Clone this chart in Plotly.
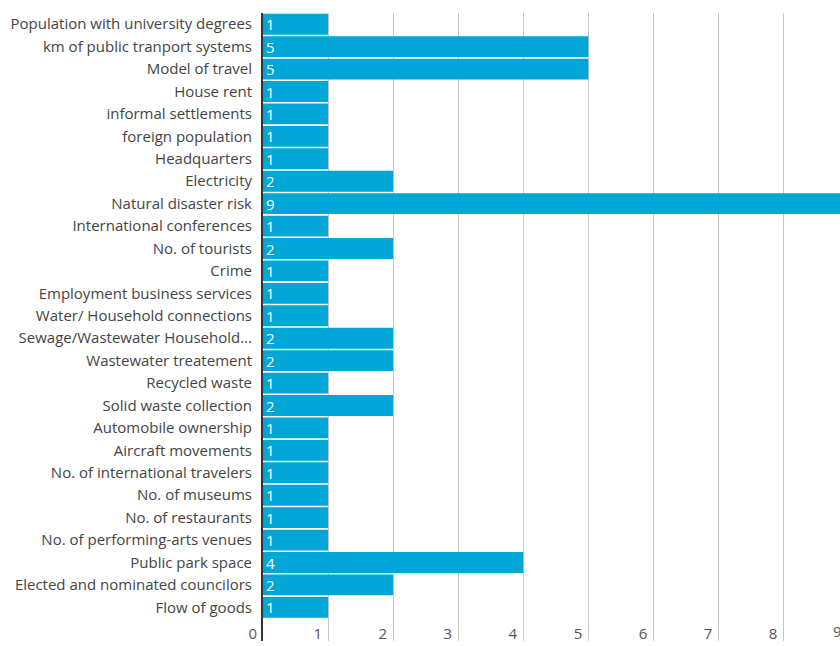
import plotly.graph_objects as go

# Indicator names, listed top to bottom
categories = [
    "Population with university degrees",
    "km of public tranport systems",
    "Model of travel",
    "House rent",
    "informal settlements",
    "foreign population",
    "Headquarters",
    "Electricity",
    "Natural disaster risk",
    "International conferences",
    "No. of tourists",
    "Crime",
    "Employment business services",
    "Water/ Household connections",
    "Sewage/Wastewater Household...",
    "Wastewater treatement",
    "Recycled waste",
    "Solid waste collection",
    "Automobile ownership",
    "Aircraft movements",
    "No. of international travelers",
    "No. of museums",
    "No. of restaurants",
    "No. of performing-arts venues",
    "Public park space",
    "Elected and nominated councilors",
    "Flow of goods",
]
counts = [1, 5, 5, 1, 1, 1, 1, 2, 9, 1, 2, 1, 1, 1, 2, 2, 1, 2, 1, 1, 1, 1, 1, 1, 4, 2, 1]
x_ticks = [0, 1, 2, 3, 4, 5, 6, 7, 8, 9]

FONT = "Open Sans"
BAR = "#00a6d6"
X_MAX = 8.87  # visible part of the value axis

fig = go.Figure(
    go.Bar(
        x=counts,
        y=categories,
        orientation="h",
        marker=dict(color=BAR, line=dict(width=0)),
        text=[str(v) for v in counts],
        textposition="inside",
        insidetextanchor="start",
        textangle=0,
        textfont=dict(family=FONT, size=15, color="white"),
        cliponaxis=True,
        hoverinfo="skip",
    )
)

n = len(categories)
fig.update_layout(
    width=840,
    height=646,
    margin=dict(l=263, r=0, t=13, b=5),
    paper_bgcolor="white",
    plot_bgcolor="white",
    bargap=0.07,
    showlegend=False,
    uniformtext=dict(minsize=15, mode="show"),
    font=dict(family=FONT, size=15, color="#444444"),
)

fig.update_xaxes(
    range=[0, X_MAX],
    tickmode="array",
    tickvals=x_ticks,
    ticktext=[str(t) for t in x_ticks],
    showgrid=True,
    gridcolor="#c8c8c8",
    gridwidth=1,
    zeroline=False,
    showline=False,
    ticks="",
    ticklabelposition="inside left",
    ticklabeloverflow="allow",
    ticklabelshift=-6,
    ticklabelstandoff=-7,
    tickfont=dict(family=FONT, size=15, color="#555555"),
)

fig.update_yaxes(
    type="category",
    categoryorder="array",
    categoryarray=categories,
    range=[n - 0.5 + 1, -0.5],
    showgrid=False,
    zeroline=False,
    showline=True,
    linecolor="#333333",
    linewidth=2,
    ticks="",
    ticklabelstandoff=6,
    tickfont=dict(family=FONT, size=15, color="#444444"),
)

# Last axis label sits just past the visible edge of the value axis
fig.add_annotation(
    x=x_ticks[-1] / X_MAX,
    xref="paper",
    y=0,
    yref="paper",
    yanchor="bottom",
    xanchor="right",
    xshift=-4,
    yshift=-2,
    text=str(x_ticks[-1]),
    showarrow=False,
    font=dict(family=FONT, size=15, color="#555555"),
)

fig.write_html("out.html")
